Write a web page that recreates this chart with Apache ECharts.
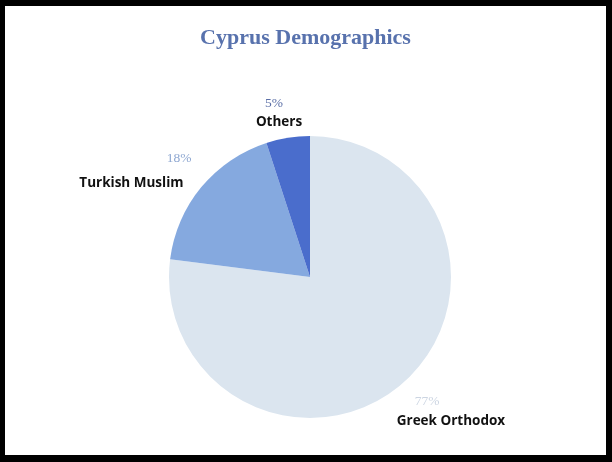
<!DOCTYPE html>
<html><head><meta charset="utf-8">
<script src="https://cdn.jsdelivr.net/npm/echarts@6/dist/echarts.min.js"></script>
<style>
html,body{margin:0;padding:0;background:#000;width:612px;height:462px;overflow:hidden}
#frame{position:absolute;left:5px;top:6px;width:601px;height:449px;background:#fff}
#c{width:601px;height:449px}
</style></head>
<body><div id="frame"><div id="c"></div></div>
<script>
const categories = ['Greek Orthodox', 'Turkish Muslim', 'Others'];
const values = [77, 18, 5];
const sliceColors = ['#dbe5ef', '#85a9df', '#4a6dcc'];
const pctColors = ['#ccd5e2', '#8ea7d1', '#5a6ea6'];

// pie geometry (relative to chart container, offset by frame)
const CX = 305, CY = 271, R = 141;
// label placement per slice: radial distance, extra shift, alignment
const labelCfg = [
  {k: 175, dx: -29, dy: 3, align: 'left'},
  {k: 168, dx: 11, dy: 1, align: 'right'},
  {k: 167, dx: -28, dy: 1, align: 'left'}
];
const total = values.reduce((a, b) => a + b, 0);
const mids = [];
let acc = 0;
values.forEach(v => { mids.push((acc + v / 2) / total * 2 * Math.PI); acc += v; });

const chart = echarts.init(document.getElementById('c'), null, {renderer: 'canvas'});
const nameStyle = {fontFamily: 'Open Sans', fontWeight: 'bold', fontSize: 13.5, color: '#111'};
chart.setOption({
  animation: false,
  title: {
    text: 'Cyprus Demographics',
    left: 'center', top: 16,
    textStyle: {fontFamily: 'Liberation Serif', fontWeight: 'bold', fontSize: 22, color: '#5872ad'}
  },
  series: [{
    type: 'pie',
    center: [CX, CY],
    radius: [0, R],
    startAngle: 90,
    clockwise: true,
    itemStyle: {borderWidth: 0},
    labelLine: {show: false},
    label: {
      show: true,
      position: 'outside',
      formatter: p => '{p' + p.dataIndex + '|' + p.value + '%}\n{n' + p.dataIndex + '|' + p.name + '}',
      rich: {
        p0: {fontFamily: 'Liberation Serif', fontSize: 13.5, color: pctColors[0], padding: [0, 0, 0, 18], lineHeight: 20},
        p1: {fontFamily: 'Liberation Serif', fontSize: 13.5, color: pctColors[1], lineHeight: 25},
        p2: {fontFamily: 'Liberation Serif', fontSize: 13.5, color: pctColors[2], padding: [0, 0, 0, 9], lineHeight: 19},
        n0: Object.assign({lineHeight: 20}, nameStyle),
        n1: Object.assign({lineHeight: 25, padding: [0, 8, 0, 0]}, nameStyle),
        n2: Object.assign({lineHeight: 19}, nameStyle)
      }
    },
    labelLayout: function (params) {
      const i = params.dataIndex;
      const c = labelCfg[i];
      const a = mids[i];
      return {
        x: CX + Math.sin(a) * c.k + c.dx,
        y: CY - Math.cos(a) * c.k + c.dy,
        align: c.align,
        verticalAlign: 'middle'
      };
    },
    data: categories.map((n, i) => ({name: n, value: values[i], itemStyle: {color: sliceColors[i]}}))
  }]
});
</script></body></html>
